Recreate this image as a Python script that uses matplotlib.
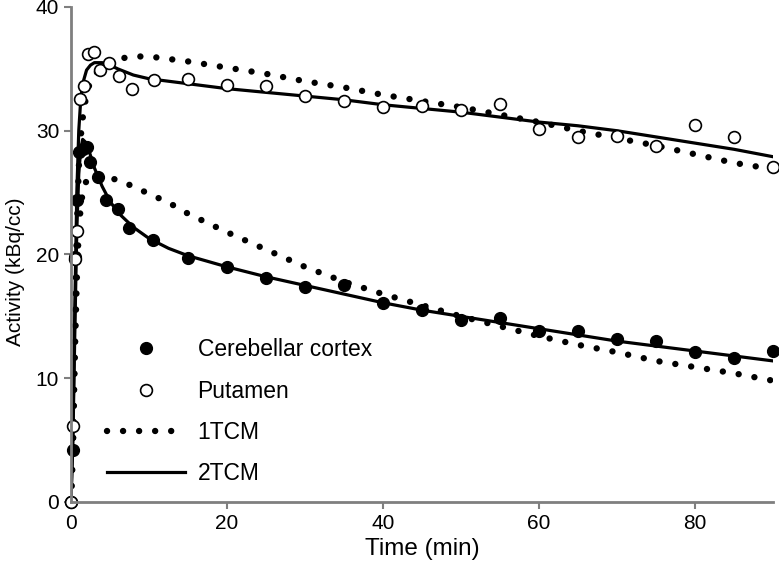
import numpy as np
import matplotlib
matplotlib.use('Agg')
import matplotlib.pyplot as plt

plt.rcParams['font.family'] = ['Liberation Sans', 'DejaVu Sans']

#measured points - cerebellar cortex
t_cb = [0, 0.25, 0.5, 0.75, 1.0, 1.5, 2, 2.5, 3.5, 4.5, 6, 7.5, 10.5, 15, 20, 25, 30, 35, 40, 45, 50, 55, 60, 65, 70, 75, 80, 85, 90]
cb = [0, 4.2, 19.8, 24.4, 28.3, 28.5, 28.7, 27.5, 26.3, 24.4, 23.7, 22.1, 21.2, 19.7, 19.0, 18.1, 17.4, 17.5, 16.1, 15.5, 14.7, 14.9, 13.8, 13.8, 13.2, 13.0, 12.1, 11.6, 12.2]

#measured points - putamen
t_pu = [0, 0.25, 0.5, 0.75, 1.15, 1.7, 2.2, 2.9, 3.7, 4.9, 6.1, 7.8, 10.6, 15, 20, 25, 30, 35, 40, 45, 50, 55, 60, 65, 70, 75, 80, 85, 90]
pu = [0, 6.1, 19.6, 21.9, 32.6, 33.6, 36.2, 36.4, 34.9, 35.5, 34.4, 33.4, 34.1, 34.2, 33.7, 33.6, 32.8, 32.4, 31.9, 32.0, 31.7, 32.2, 30.1, 29.5, 29.6, 28.8, 30.5, 29.5, 27.1]

#model fits
t_fit = [0, 0.25, 0.5, 0.75, 1, 1.25, 1.5, 2, 2.5, 3, 4, 5, 6, 8, 10, 12.5, 15, 20, 25, 30, 35, 40, 45, 50, 55, 60, 65, 70, 75, 80, 85, 90]
cb_1tcm = [0, 4, 12, 18, 22, 23.8, 25, 26, 26.3, 26.4, 26.4, 26.2, 26.0, 25.5, 24.9, 24.2, 23.3, 21.8, 20.4, 19.0, 17.8, 16.8, 15.9, 15.0, 14.2, 13.4, 12.7, 12.1, 11.4, 10.9, 10.4, 9.8]
cb_2tcm = [0, 5, 14, 22, 26.5, 28.5, 29.3, 29.0, 28.0, 27.0, 25.5, 24.3, 23.4, 22.2, 21.3, 20.5, 19.9, 19.0, 18.2, 17.5, 16.8, 16.1, 15.5, 15.0, 14.5, 14.0, 13.5, 13.0, 12.6, 12.2, 11.8, 11.4]
pu_1tcm = [0, 5, 14, 22, 27, 29.5, 31, 33, 34.0, 34.5, 35.2, 35.6, 35.8, 36.0, 36.0, 35.8, 35.6, 35.1, 34.6, 34.0, 33.5, 32.9, 32.4, 31.9, 31.3, 30.7, 30.0, 29.4, 28.8, 28.1, 27.4, 26.9]
pu_2tcm = [0, 6, 16, 25, 30, 32.5, 33.8, 34.9, 35.3, 35.5, 35.5, 35.3, 35.0, 34.5, 34.2, 34.0, 33.8, 33.4, 33.1, 32.8, 32.5, 32.1, 31.8, 31.5, 31.1, 30.7, 30.4, 30.0, 29.5, 29.0, 28.5, 27.9]

gray = '#7f7f7f'
dots = (0, (0.01, 2.5))

fig = plt.figure(figsize=(7.79, 5.72), dpi=100)
ax = fig.add_axes([0.0911, 0.1224, 0.9012, 0.8654])

ax.plot(t_fit, cb_1tcm, color='black', lw=4.6, linestyle=dots, dash_capstyle='round')
ax.plot(t_fit, pu_1tcm, color='black', lw=4.6, linestyle=dots, dash_capstyle='round')
ax.plot(t_fit, cb_2tcm, color='black', lw=2.3)
ax.plot(t_fit, pu_2tcm, color='black', lw=2.3)
ax.plot(t_cb, cb, 'o', color='black', ms=8.5, clip_on=False)
ax.plot(t_pu, pu, 'o', mfc='white', mec='black', mew=1.2, ms=8.5, clip_on=False)

#legend handles
h1, = ax.plot([], [], 'o', color='black', ms=8.5)
h2, = ax.plot([], [], 'o', mfc='white', mec='black', mew=1.2, ms=8.5)
h3, = ax.plot([], [], color='black', lw=4.6, linestyle=dots, dash_capstyle='round')
h4, = ax.plot([], [], color='black', lw=2.3)
ax.legend([h1, h2, h3, h4], ['Cerebellar cortex', 'Putamen', '1TCM', '2TCM'],
          frameon=False, fontsize=16.5, handlelength=3.4, labelspacing=0.8,
          handletextpad=0.55, loc='upper left', bbox_to_anchor=(0.022, 0.372))

ax.set_xlim(0, 90)
ax.set_ylim(0, 40)
ax.set_xticks([0, 20, 40, 60, 80])
ax.set_yticks([0, 10, 20, 30, 40])
ax.spines['top'].set_visible(False)
ax.spines['right'].set_visible(False)
for s in ['left', 'bottom']:
    ax.spines[s].set_color(gray)
    ax.spines[s].set_linewidth(2)
ax.tick_params(colors=gray, width=1.5, length=5, labelsize=15, labelcolor='black')
ax.set_xlabel('Time (min)', fontsize=17.5, labelpad=4)
ax.set_ylabel('Activity (kBq/cc)', fontsize=15)
ax.yaxis.set_label_coords(-0.066, 0.465)

plt.savefig('out.png', dpi=100)
